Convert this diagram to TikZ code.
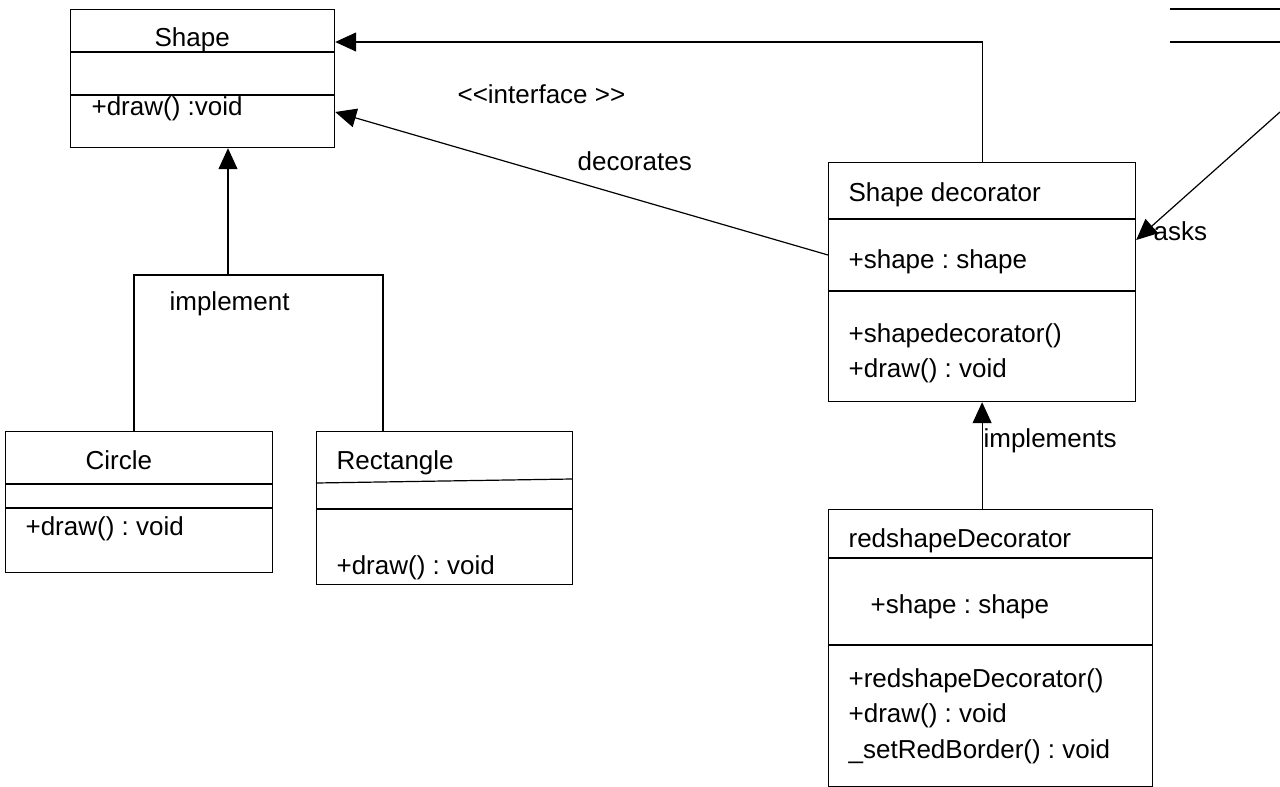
\documentclass[tikz,border=0pt]{standalone}
\usepackage{fontspec}
\setmainfont{Liberation Sans}
\usetikzlibrary{positioning, arrows.meta}
\frenchspacing

\tikzset{
  classe/.style={draw, line width=1.2pt, anchor=north west, inner sep=0pt},
  rotulo/.style={anchor=base west, inner sep=0pt, font=\fontsize{26}{31}\selectfont},
  seta/.style={line width=1.2pt, -{Triangle[length=21pt,width=19pt]}},
}

\begin{document}
\begin{tikzpicture}[x=1pt, y=-1pt, line width=1.2pt]
\useasboundingbox (0,0) rectangle (1280,787);

% Classe Shape
\node[classe, minimum width=264pt, minimum height=138pt] (shape) at (70,9) {};
\draw (70,52) -- (334,52);
\draw (70,95) -- (334,95);
\node[rotulo] (shapenome) at (154,46) {Shape};
\node[rotulo] (shapedraw) at (91,115) {+draw() :void};

% Classe Circle
\node[classe, minimum width=267pt, minimum height=141pt] (circle) at (5,431) {};
\draw (5,484) -- (272,484);
\draw (5,508) -- (272,508);
\node[rotulo] (circlenome) at (85,469) {Circle};
\node[rotulo] (circledraw) at (25,535) {+draw() : void};

% Classe Rectangle
\node[classe, minimum width=256pt, minimum height=153pt] (rect) at (316,431) {};
\draw (316,483) -- (572,479);
\draw (316,509) -- (572,509);
\node[rotulo] (rectnome) at (336,469) {Rectangle};
\node[rotulo] (rectdraw) at (336,574) {+draw() : void};

% Classe Shape decorator
\node[classe, minimum width=307pt, minimum height=239pt] (sd) at (828,162) {};
\draw (828,219) -- (1135,219);
\draw (828,291) -- (1135,291);
\node[rotulo] (sdnome) at (848,201) {Shape decorator};
\node[rotulo] (sdattr) at (848,268) {+shape : shape};
\node[rotulo] (sdctor) at (848,342) {+shapedecorator()};
\node[rotulo] (sddraw) at (848,377) {+draw() : void};

% Classe redshapeDecorator
\node[classe, minimum width=324pt, minimum height=277pt] (red) at (828,509) {};
\draw (828,558) -- (1152,558);
\draw (828,645) -- (1152,645);
\node[rotulo] (rednome) at (848,547) {redshapeDecorator};
\node[rotulo] (redattr) at (870,613) {+shape : shape};
\node[rotulo] (redctor) at (848,687) {+redshapeDecorator()};
\node[rotulo] (reddraw) at (848,722) {+draw() : void};
\node[rotulo] (redborda) at (848,758) {\_setRedBorder() : void};

% Classe cortada no canto
\draw (1170,9) -- (1280,9);
\draw (1170,42) -- (1280,42);
\coordinate (canto) at (1280,112);

% Heranca: Circle e Rectangle
\coordinate (jl) at (134,275);
\coordinate (jm) at (228,275);
\coordinate (jr) at (383,275);
\draw (jl |- circle.north) -- (jl) -- (jr) -- (jr |- rect.north);
\draw[seta] (jm) -- (jm |- shape.south);
\node[rotulo] (implement) at (169,310) {implement};

% Ligacoes do decorator
\draw[seta] (sd.north) |- ([yshift=-33pt]shape.north east);
\draw[seta] ([yshift=-93pt]sd.north west) -- ([yshift=-103pt]shape.north east);
\node[rotulo] (interface) at (457,103) {<{}<interface >{}>};
\node[rotulo] (decorates) at (577,170) {decorates};

\draw[seta] (canto) -- ([yshift=-78pt]sd.north east);
\node[rotulo] (asks) at (1153,240) {asks};

\draw[seta] (red.north -| sd.south) -- (sd.south);
\node[rotulo] (implements) at (983,447) {implements};

\end{tikzpicture}
\end{document}
